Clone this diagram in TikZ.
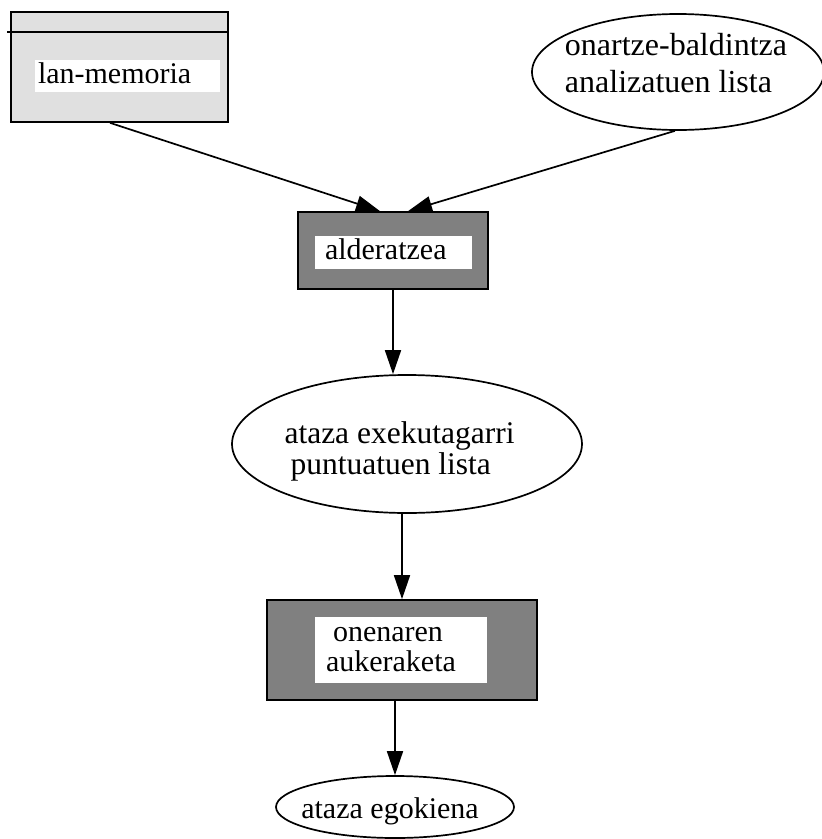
\documentclass[tikz,border=0pt]{standalone}
\usepackage{fontspec}
\setmainfont{Liberation Serif}
\usetikzlibrary{arrows.meta}
\usetikzlibrary{shapes.geometric}

\definecolor{memgray}{HTML}{E0E0E0}
\definecolor{stepgray}{HTML}{808080}
\newcommand{\boxfont}{\fontsize{30}{30}\selectfont}
\newcommand{\ellfont}{\fontsize{31.5}{31}\selectfont}

\tikzset{
  store/.style={draw, fill=memgray, line width=1.7pt, inner sep=0pt},
  stepbox/.style={draw, fill=stepgray, line width=1.7pt, inner sep=0pt},
  tag/.style={fill=white, inner ysep=0pt, align=left, font=\boxfont},
  datum/.style={draw, ellipse, line width=1.7pt, inner sep=0pt},
  flow/.style={-{Triangle[length=24pt,width=16pt]}, line width=1.7pt},
}

\begin{document}
\begin{tikzpicture}[x=1pt,y=-1pt]
\useasboundingbox (0,0) rectangle (822,839);

\node[store, minimum width=217pt, minimum height=110pt] (mem) at (119.5,67) {};
\draw[line width=1.7pt] ([shift={(-3,21)}]mem.north west) -- ([yshift=-21pt]mem.north east);
\node[tag, inner xsep=3pt, text width=179pt, minimum height=32pt, text height=20pt, text depth=6pt] (memtag) at (127.5,76) {lan-memoria};

\node[datum, minimum width=292pt, minimum height=116pt,
      label={[font=\fontsize{32}{36.5}\selectfont, align=left, xshift=-2pt, yshift=9pt]center:onartze-baldintza\\analizatuen lista}] (crit) at (678,72) {};

\node[stepbox, minimum width=190pt, minimum height=77pt] (cmp) at (393,250.5) {};
\node[tag, inner xsep=10pt, text width=137pt, minimum height=33pt, text height=20pt, text depth=6pt] (cmptag) at (393.5,252.5) {alderatzea};

\node[datum, minimum width=350pt, minimum height=138pt,
      label={[font=\ellfont, align=left, xshift=-7.5pt, yshift=-7pt]center:ataza exekutagarri\\\hspace*{6pt}puntuatuen lista}] (list) at (407,444) {};

\node[stepbox, minimum width=270pt, minimum height=100pt] (pick) at (402,650) {};
\node[tag, inner xsep=11pt, text width=150pt, minimum height=66pt] (picktag) at (401,650) {\hspace*{7pt}onenaren\\aukeraketa};

\node[datum, minimum width=238pt, minimum height=62pt,
      label={[font=\boxfont, xshift=-5pt, yshift=-4pt]center:ataza egokiena}] (best) at (395,807) {};

% arrows
\draw[flow] ([xshift=-9.5pt]mem.south) -- ([xshift=-13pt]cmp.north);
\draw[flow] ([xshift=-3pt]crit.south) -- ([xshift=15pt]cmp.north);
\draw[flow] (cmp.south) -- (cmp.south |- list.north);
\draw[flow] (pick.north |- list.south) -- (pick.north);
\draw[flow] (best.north |- pick.south) -- (best.north);
\end{tikzpicture}
\end{document}
